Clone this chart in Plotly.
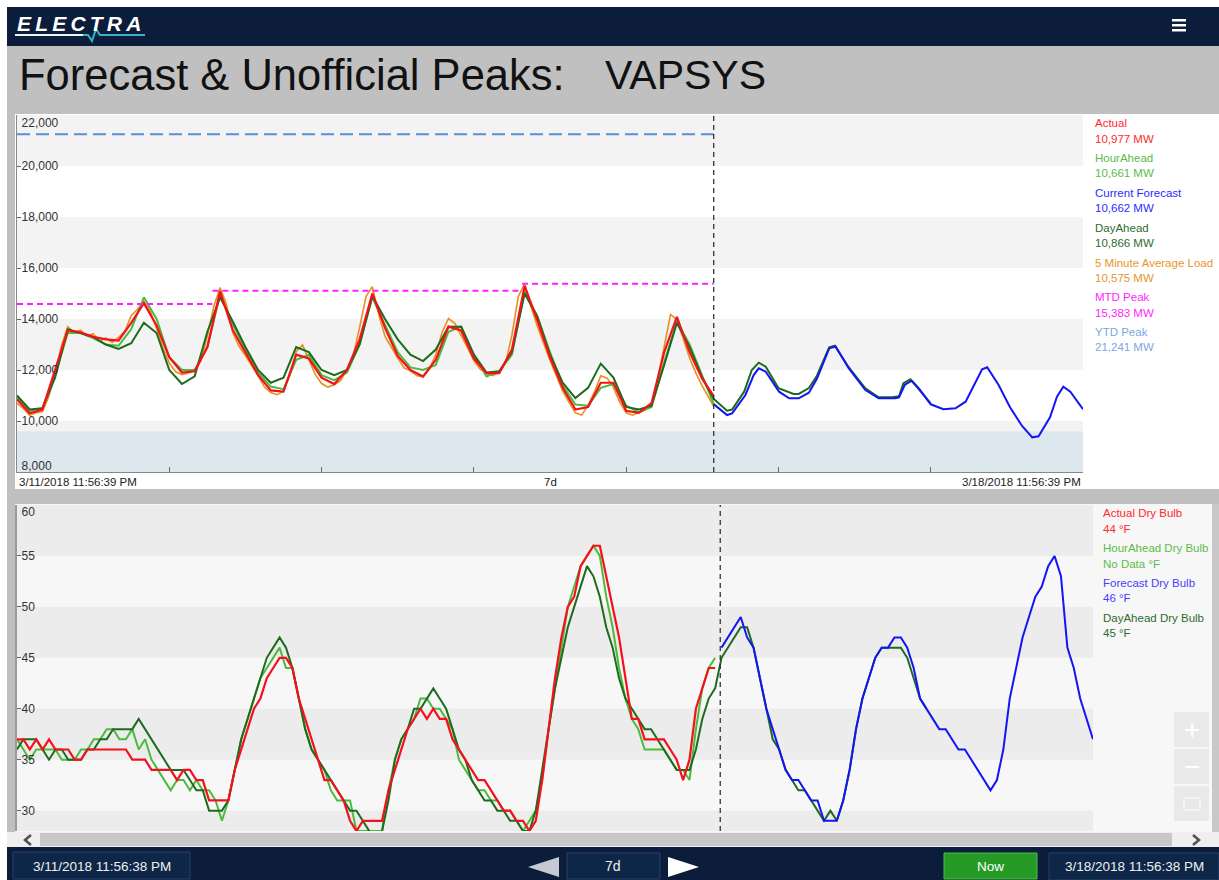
import plotly.graph_objects as go

W, H = 1219, 880
FONT = "Liberation Sans, Arial, sans-serif"

# hours since 3/11/2018 11:56:39 PM, 7 day window
now_hour = 109.8

# ---- load chart (MW) ----
load_hours = list(range(0, 110, 2)) + [now_hour]
actual_mw = [10850, 10300, 10450, 12000, 13550, 13480, 13300, 13200, 13150, 13850,
             14620, 13750, 12500, 11900, 11950, 12900, 15080, 13570, 12700, 11800,
             11200, 11150, 12600, 12450, 11700, 11450, 12000, 13200, 15000, 13650,
             12550, 12000, 11750, 12400, 13700, 13550, 12450, 11880, 11880, 12800,
             15300, 13950, 12500, 11300, 10450, 10550, 11500, 11500, 10400, 10320,
             10700, 12700, 14080, 12700, 11650, 10977]
hour_ahead_mw = [10950, 10400, 10500, 11800, 13450, 13450, 13250, 13000, 12950, 13600,
                 14850, 14000, 12500, 12000, 12000, 12900, 14950, 13800, 12800, 11900,
                 11350, 11250, 12400, 12600, 11800, 11600, 11900, 13000, 14850, 13800,
                 12700, 12100, 12000, 12200, 13500, 13700, 12600, 11750, 11950, 12600,
                 15100, 14100, 12700, 11400, 10650, 10600, 11300, 11450, 10600, 10350,
                 10550, 12300, 13900, 13000, 11800, 10661]
day_ahead_hours = load_hours + [111.9, 112.7, 114.6, 115.8, 116.9, 118.0, 120.0, 122.4,
                                123.2, 124.8, 126.0, 128.0, 128.9, 131.0, 133.7, 135.8,
                                137.9, 139.0, 139.7, 140.8, 142.0, 144.0]
day_ahead_mw = [11000, 10450, 10500, 11700, 13600, 13450, 13300, 13000, 12830, 13050,
                13850, 13450, 12000, 11450, 11750, 13500, 14850, 13900, 12900, 12000,
                11500, 11700, 12900, 12700, 12000, 11800, 12000, 13000, 14900, 14000,
                13200, 12600, 12350, 12800, 13700, 13700, 12600, 11900, 11950, 12700,
                15000, 14100, 12600, 11500, 10900, 11300, 12250, 11700, 10550, 10450,
                10600, 12200, 13850, 12900, 11700, 10866,
                10405, 10450, 11150, 12000, 12287, 12130, 11290, 11060, 11060, 11290,
                11740, 12890, 12950, 12130, 11280, 10930, 10930, 10970, 11480, 11635,
                11290, 10694]
forecast_hours = [now_hour, 111.9, 112.7, 114.8, 116.1, 116.9, 118.0, 120.1, 121.7, 123.2,
                  124.8, 126.1, 128.0, 129.0, 131.1, 133.7, 135.8, 138.4, 139.0, 139.9,
                  141.0, 142.1, 144.0, 146.0, 147.9, 149.5, 152.1, 152.9, 154.7, 156.5,
                  158.4, 160.0, 161.0, 162.8, 163.9, 164.9, 166.0, 168.0]
forecast_mw = [10662, 10235, 10300, 11020, 11800, 12065, 11935, 11150, 10890, 10890,
               11110, 11675, 12850, 12920, 12065, 11216, 10890, 10890, 10930, 11412,
               11580, 11290, 10655, 10460, 10500, 10757, 12027, 12105, 11412, 10537,
               9804, 9360, 9400, 10145, 10953, 11345, 11150, 10460]
five_min_hours = list(range(109)) + [now_hour]
five_min_mw = [10700, 10480, 10220, 10330, 10360, 10950, 11850, 12950, 13700, 13480,
               13560, 13330, 13420, 13130, 13260, 13080, 13280, 13520, 14130, 14380,
               14680, 14320, 13620, 12880, 12270, 11930, 11820, 11880, 11980, 12380,
               13330, 14480, 15230, 14580, 13470, 12930, 12570, 12180, 11770, 11330,
               11120, 11030, 11170, 11780, 12720, 12980, 12420, 11830, 11470, 11330,
               11420, 11580, 12020, 12580, 13670, 14880, 15270, 14180, 13320, 12880,
               12470, 12080, 11970, 11780, 11720, 12030, 12620, 13480, 14020, 13830,
               13370, 12880, 12370, 12030, 11870, 11780, 11920, 12280, 13370, 14880,
               15383, 14480, 13720, 13030, 12370, 11780, 11170, 10730, 10320, 10230,
               10620, 11130, 11770, 11680, 11320, 10730, 10320, 10230, 10320, 10430,
               10670, 11680, 12920, 14180, 13970, 13180, 12470, 11880, 11370, 10575]
mtd_start = [0, 30.8, 79.6]
mtd_end = [30.8, 79.6, now_hour]
mtd_level = [14590, 15110, 15383]
ytd_peak = 21241

load_ticks = [10000, 12000, 14000, 16000, 18000, 20000]
load_tick_min, load_tick_max = 8000, 22000
day_ticks = [24, 48, 72, 96, 120, 144]

load_legend = [("Actual", "10,977 MW", "#ff2a2a"),
               ("HourAhead", "10,661 MW", "#5dbb4a"),
               ("Current Forecast", "10,662 MW", "#2b2bff"),
               ("DayAhead", "10,866 MW", "#2f6b2f"),
               ("5 Minute Average Load", "10,575 MW", "#e8962a"),
               ("MTD Peak", "15,383 MW", "#ff1fff"),
               ("YTD Peak", "21,241 MW", "#7ea6dc")]

# ---- dry bulb chart (F) ----
temp_hours = list(range(110))
actual_temp = [37, 37, 36, 37, 36, 37, 36, 36, 36, 35,
               35, 36, 36, 36, 36, 36, 36, 36, 35, 35,
               35, 34, 34, 34, 34, 33, 34, 34, 33, 33,
               31, 31, 31, 31, 34, 36, 38, 40, 41, 43,
               44, 45, 45, 44, 41, 39, 37, 35, 33, 33,
               32, 31, 29, 28, 29, 29, 29, 29, 32, 34,
               36, 38, 39, 40, 39, 40, 39, 39, 37, 36,
               35, 34, 33, 33, 32, 31, 30, 30, 29, 29,
               28, 29, 33, 38, 43, 47, 50, 51, 54, 55,
               56, 56, 53, 50, 47, 43, 39, 39, 37, 37,
               37, 37, 36, 35, 33, 35, 40, 42, 44, 44]
hour_ahead_temp = [37, 36, 35, 36, 36, 36, 36, 35, 35, 35,
                   36, 36, 37, 37, 38, 38, 37, 37, 38, 36,
                   37, 35, 34, 33, 32, 33, 33, 32, 33, 32,
                   32, 31, 29, 31, 34, 37, 39, 41, 43, 44,
                   45, 46, 44, 44, 41, 38, 36, 35, 34, 32,
                   31, 31, 31, 28, 28, 28, 28, 28, 32, 35,
                   37, 38, 39, 41, 41, 40, 40, 39, 38, 35,
                   34, 33, 32, 32, 31, 31, 30, 30, 29, 28,
                   29, 30, 33, 38, 42, 46, 50, 52, 54, 55,
                   56, 55, 51, 48, 44, 41, 39, 38, 36, 36,
                   36, 36, 35, 34, 34, 33, 38, 42, 44, 45]
day_ahead_temp_hours = list(range(143))
day_ahead_temp = [36, 37, 37, 37, 36, 35, 36, 36, 35, 35,
                  35, 36, 36, 37, 37, 38, 38, 38, 38, 39,
                  38, 37, 36, 35, 34, 34, 34, 33, 32, 32,
                  30, 30, 30, 31, 34, 37, 39, 41, 43, 45,
                  46, 47, 46, 44, 41, 38, 36, 35, 34, 33,
                  32, 31, 30, 30, 29, 28, 27, 28, 31, 35,
                  37, 38, 40, 40, 41, 42, 41, 40, 38, 36,
                  35, 33, 32, 31, 31, 30, 30, 29, 29, 28,
                  28, 30, 34, 38, 42, 45, 48, 50, 52, 54,
                  53, 51, 48, 46, 43, 41, 40, 39, 38, 38,
                  37, 36, 35, 34, 34, 34, 36, 39, 41, 42,
                  45, 46, 47, 48, 48, 46, 43, 40, 37, 36,
                  34, 33, 32, 32, 31, 30, 29, 30, 29, 31,
                  34, 38, 41, 43, 45, 46, 46, 46, 46, 45,
                  43, 41, 40]
forecast_temp_hours = list(range(110, 169))
forecast_temp = [46, 47, 48, 49, 47, 46, 43, 40, 38, 36,
                 34, 33, 33, 32, 31, 31, 29, 29, 29, 31,
                 34, 38, 41, 43, 45, 46, 46, 47, 47, 46,
                 44, 41, 40, 39, 38, 38, 37, 36, 36, 35,
                 34, 33, 32, 33, 36, 41, 44, 47, 49, 51,
                 52, 54, 55, 53, 46, 44, 41, 39, 37]

temp_ticks = [30, 35, 40, 45, 50, 55]
temp_tick_max = 60

temp_legend = [("Actual Dry Bulb", "44 °F", "#ff2a2a"),
               ("HourAhead Dry Bulb", "No Data °F", "#5dbb4a"),
               ("Forecast Dry Bulb", "46 °F", "#4b3cff"),
               ("DayAhead Dry Bulb", "45 °F", "#2f6b2f")]

RED = "#f5101e"
LIGHT_GREEN = "#4cbb3c"
DARK_GREEN = "#1d6b1d"
BLUE = "#1414f5"
ORANGE = "#e8901e"


def px(x):
    return x / W


def py(y):
    return 1 - y / H


def rect(x0, y0, x1, y1, fill, line=None, layer="below"):
    return dict(type="rect", xref="paper", yref="paper",
                x0=px(x0), x1=px(x1), y0=py(y1), y1=py(y0),
                fillcolor=fill, layer=layer,
                line=dict(width=1 if line else 0, color=line or fill))


def path(points, fill=None, line=None, width=0, closed=True):
    d = "M " + " L ".join(f"{px(x):.5f},{py(y):.5f}" for x, y in points)
    if closed:
        d += " Z"
    return dict(type="path", xref="paper", yref="paper", path=d,
                fillcolor=fill if fill else "rgba(0,0,0,0)", layer="above",
                line=dict(width=width, color=line or "rgba(0,0,0,0)"))


def text(x, y, s, size=11.5, color="#222", xanchor="left"):
    return dict(x=px(x), y=py(y), xref="paper", yref="paper", text=s, showarrow=False,
                xanchor=xanchor, yanchor="middle",
                font=dict(family=FONT, size=size, color=color))


fig = go.Figure()

# load traces (top)
fig.add_trace(go.Scatter(x=five_min_hours, y=five_min_mw, mode="lines",
                         line=dict(color=ORANGE, width=1.6), name="5 Minute Average Load"))
fig.add_trace(go.Scatter(x=load_hours, y=hour_ahead_mw, mode="lines",
                         line=dict(color=LIGHT_GREEN, width=2), name="HourAhead"))
fig.add_trace(go.Scatter(x=day_ahead_hours, y=day_ahead_mw, mode="lines",
                         line=dict(color=DARK_GREEN, width=2), name="DayAhead"))
fig.add_trace(go.Scatter(x=forecast_hours, y=forecast_mw, mode="lines",
                         line=dict(color=BLUE, width=2), name="Current Forecast"))
fig.add_trace(go.Scatter(x=load_hours, y=actual_mw, mode="lines",
                         line=dict(color=RED, width=2.2), name="Actual"))

mtd_x, mtd_y = [], []
for s, e, v in zip(mtd_start, mtd_end, mtd_level):
    mtd_x += [s, e, None]
    mtd_y += [v, v, None]
fig.add_trace(go.Scatter(x=mtd_x, y=mtd_y, mode="lines",
                         line=dict(color="#ff1fff", width=2, dash="6px,4px"), name="MTD Peak"))
fig.add_trace(go.Scatter(x=[0, now_hour], y=[ytd_peak, ytd_peak], mode="lines",
                         line=dict(color="#5b8fd9", width=2, dash="13px,6px"), name="YTD Peak"))

# dry bulb traces (bottom)
fig.add_trace(go.Scatter(x=temp_hours, y=hour_ahead_temp, mode="lines", xaxis="x2", yaxis="y2",
                         line=dict(color=LIGHT_GREEN, width=2), name="HourAhead Dry Bulb"))
fig.add_trace(go.Scatter(x=day_ahead_temp_hours, y=day_ahead_temp, mode="lines", xaxis="x2", yaxis="y2",
                         line=dict(color=DARK_GREEN, width=2), name="DayAhead Dry Bulb"))
fig.add_trace(go.Scatter(x=forecast_temp_hours, y=forecast_temp, mode="lines", xaxis="x2", yaxis="y2",
                         line=dict(color=BLUE, width=2), name="Forecast Dry Bulb"))
fig.add_trace(go.Scatter(x=temp_hours, y=actual_temp, mode="lines", xaxis="x2", yaxis="y2",
                         line=dict(color=RED, width=2.2), name="Actual Dry Bulb"))

# empty traces so the overlay axes that carry the edge tick labels get drawn
for xa, ya in [("x", "y3"), ("x", "y4"), ("x2", "y5")]:
    fig.add_trace(go.Scatter(x=[None], y=[None], mode="lines", xaxis=xa, yaxis=ya,
                             showlegend=False, hoverinfo="skip"))

shapes = [
    rect(7, 7, W, H, "#c0c0c0"),
    rect(7, 7, W, 46, "#0c1d3b"),
    rect(15, 114, W, 489, "#ffffff"),
    rect(15, 504, 1212, 832, "#f7f7f7"),
    rect(1212, 504, W, 832, "#c8c8c8"),
    rect(7, 832, W, 847, "#efefef"),
    rect(40, 833, 1172, 846, "#c8c8c8"),
    rect(7, 847, W, H, "#0c1d3b"),
]

# plot bands
for lo, hi in [(20000, 22000), (16000, 18000), (12000, 14000), (9600, 10000)]:
    shapes.append(dict(type="rect", xref="x", yref="y", x0=0, x1=168, y0=lo, y1=hi,
                       fillcolor="#f3f3f3", line=dict(width=0), layer="below"))
shapes.append(dict(type="rect", xref="x", yref="y", x0=0, x1=168, y0=8000, y1=9600,
                   fillcolor="#dce7ee", line=dict(width=0), layer="below"))
for lo, hi in [(55, 60), (45, 50), (35, 40), (28, 30)]:
    shapes.append(dict(type="rect", xref="x2", yref="y2", x0=0, x1=168, y0=lo, y1=hi,
                       fillcolor="#ececec", line=dict(width=0), layer="below"))

# now lines
shapes.append(dict(type="line", xref="x", yref="y domain", x0=now_hour, x1=now_hour, y0=0, y1=1,
                   line=dict(color="#333", width=1.3, dash="5px,4px"), layer="above"))
shapes.append(dict(type="line", xref="x2", yref="y2 domain", x0=now_hour, x1=now_hour, y0=0, y1=1,
                   line=dict(color="#333", width=1.3, dash="5px,4px"), layer="above"))

# logo underline, menu icon
shapes.append(path([(15, 35), (83, 35)], line="#e8f4f8", width=2, closed=False))
shapes.append(path([(83, 35), (88, 35), (92, 41), (96, 29), (100, 35), (145, 35)],
                   line="#35b3c8", width=2, closed=False))
for yy in (19, 24, 29):
    shapes.append(rect(1172, yy, 1186, yy + 2.5, "#ffffff", layer="above"))

# zoom buttons
for y0 in (712, 749, 786):
    shapes.append(rect(1174, y0, 1209, y0 + 35, "#e9e9e9", layer="above"))
shapes.append(rect(1184, 798, 1200, 810, "rgba(0,0,0,0)", line="#ffffff", layer="above"))

# scroll chevrons
shapes.append(path([(31, 835), (25, 840), (31, 845)], line="#505050", width=2.5, closed=False))
shapes.append(path([(1193, 835), (1199, 840), (1193, 845)], line="#505050", width=2.5, closed=False))

# footer controls
shapes.append(rect(13, 852, 190, 879, "#0e2748", line="#27436a", layer="above"))
shapes.append(rect(567, 853, 660, 879, "#0e2748", line="#27436a", layer="above"))
shapes.append(rect(944, 853, 1037, 879, "#259a25", line="#4cbd4c", layer="above"))
shapes.append(rect(1049, 853, W, 880, "#0e2748", line="#27436a", layer="above"))
shapes.append(path([(528, 867), (559, 857), (559, 877)], fill="#c5c9d1"))
shapes.append(path([(668, 857), (699, 867), (668, 877)], fill="#ffffff"))

annotations = [
    text(15, 24, "<b><i>E\u2009L\u2009E\u2009C\u2009T\u2009R\u2009A</i></b>", size=21, color="#ffffff"),
    text(17, 75, "Forecast & Unofficial Peaks:", size=43.5, color="#111111"),
    text(603, 75, "VAPSYS", size=41, color="#111111"),
    text(17, 482, "3/11/2018 11:56:39 PM", size=11.5),
    text(550, 482, "7d", size=11.5, xanchor="center"),
    text(1083, 482, "3/18/2018 11:56:39 PM", size=11.5, xanchor="right"),
    text(1192, 729, "+", size=28, color="#ffffff", xanchor="center"),
    text(1192, 766, "\u2212", size=28, color="#ffffff", xanchor="center"),
    text(102, 866, "3/11/2018 11:56:38 PM", size=13.5, color="#eeeeee", xanchor="center"),
    text(613, 866, "7d", size=14, color="#eeeeee", xanchor="center"),
    text(990, 866, "Now", size=13.5, color="#ffffff", xanchor="center"),
    text(1134, 866, "3/18/2018 11:56:38 PM", size=13.5, color="#eeeeee", xanchor="center"),
]

for i, (name, val, col) in enumerate(load_legend):
    y0 = 123.3 + i * 34.8
    annotations.append(text(1093, y0, name, color=col))
    annotations.append(text(1093, y0 + 15.3, val, color=col))
for i, (name, val, col) in enumerate(temp_legend):
    y0 = 513.3 + i * 34.8
    annotations.append(text(1101, y0, name, color=col))
    annotations.append(text(1101, y0 + 15.5, val, color=col))

tick_font = dict(family=FONT, size=12, color="#333333")
yax_common = dict(showgrid=False, zeroline=False, ticks="inside", ticklen=4,
                  tickcolor="#666666", ticklabelposition="inside",
                  ticklabeloverflow="allow", tickfont=tick_font)

fig.update_layout(
    width=W, height=H,
    margin=dict(l=0, r=0, t=0, b=0, autoexpand=False),
    paper_bgcolor="#ffffff",
    plot_bgcolor="rgba(0,0,0,0)",
    showlegend=False,
    hovermode=False,
    font=dict(family=FONT),
    shapes=shapes,
    annotations=annotations,
    xaxis=dict(domain=[px(17), px(1083)], range=[0, 168], anchor="y",
               showgrid=False, zeroline=False, showline=True, linecolor="#888888",
               ticks="inside", ticklen=5, tickcolor="#666666", tickvals=day_ticks,
               showticklabels=False),
    yaxis=dict(domain=[py(472), py(115)], range=[8000, 22000], anchor="x",
               showline=True, linecolor="#888888", tickvals=load_ticks,
               tickformat=",d", **yax_common),
    # edge labels sit just inside the plot, as in the original
    yaxis3=dict(overlaying="y", anchor="x", side="left", range=[8000, 22000], showline=False,
                tickvals=[load_tick_min], tickformat=",d", ticklabelshift=-6, **yax_common),
    yaxis4=dict(overlaying="y", anchor="x", side="left", range=[8000, 22000], showline=False,
                tickvals=[load_tick_max], tickformat=",d", ticklabelshift=8, **yax_common),
    xaxis2=dict(domain=[px(17), px(1093)], range=[0, 168], anchor="y2",
                showgrid=False, zeroline=False, showline=False, showticklabels=False),
    yaxis2=dict(domain=[py(831), py(505)], range=[28, 60], anchor="x2",
                showline=True, linecolor="#9a9a9a", linewidth=2,
                tickvals=temp_ticks, **yax_common),
    yaxis5=dict(overlaying="y2", anchor="x2", side="left", range=[28, 60], showline=False,
                tickvals=[temp_tick_max], ticklabelshift=7, **yax_common),
)

fig.write_html("out.html", config={"displayModeBar": False},
               post_script="document.body.style.margin='0';document.body.style.overflow='hidden';")
